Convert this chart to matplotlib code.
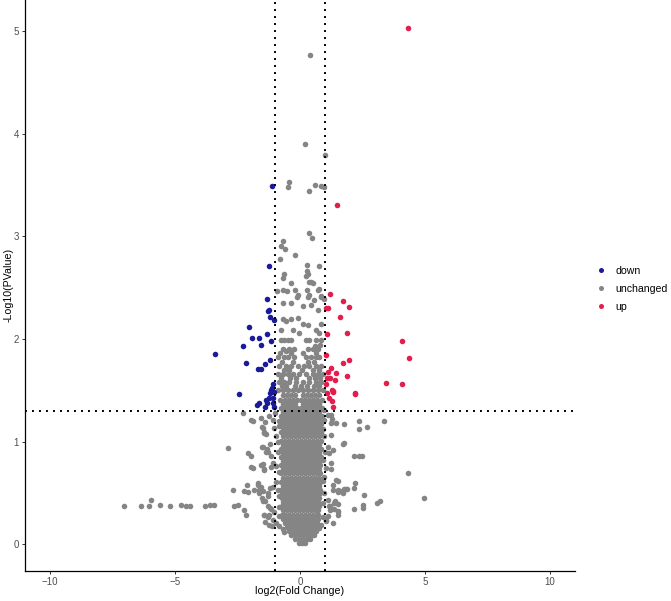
import matplotlib
matplotlib.use("Agg")
import matplotlib.pyplot as plt
from matplotlib.lines import Line2D

plt.rcParams['font.family'] = ['Liberation Sans', 'DejaVu Sans']

# significant points: (log2 fold change, -log10 p)
down_pts = [(-1.14, 3.49), (-1.23, 2.71), (-1.32, 2.39), (-1.26, 2.28), (-1.28, 2.27),
            (-1.19, 2.21), (-1.06, 2.18), (-2.06, 2.12), (-1.32, 2.05), (-1.92, 2.01),
            (-1.63, 2.01), (-1.18, 1.98), (-2.27, 1.93), (-1.55, 1.94), (-3.42, 1.85),
            (-1.22, 1.79), (-1.40, 1.76), (-2.18, 1.77), (-1.68, 1.71), (-1.58, 1.71),
            (-1.07, 1.56), (-1.11, 1.52), (-1.18, 1.50), (-1.20, 1.47), (-1.03, 1.48),
            (-2.46, 1.46), (-1.23, 1.42), (-1.10, 1.42), (-1.36, 1.41), (-1.63, 1.38),
            (-1.71, 1.36), (-1.31, 1.38), (-1.40, 1.34), (-1.07, 1.38), (-1.06, 1.34)]

up_pts = [(4.30, 5.03), (1.49, 3.30), (1.20, 2.44), (1.73, 2.37), (1.96, 2.31),
          (1.04, 2.30), (1.12, 2.30), (1.58, 2.21), (1.88, 2.06), (1.09, 2.05),
          (4.09, 1.98), (4.37, 1.81), (1.94, 1.79), (1.73, 1.77), (1.04, 1.84),
          (1.25, 1.72), (1.12, 1.68), (1.44, 1.67), (1.20, 1.62), (1.41, 1.60),
          (1.88, 1.64), (1.07, 1.62), (3.44, 1.57), (4.08, 1.56), (1.28, 1.50),
          (1.33, 1.48), (1.08, 1.47), (2.18, 1.47), (2.20, 1.46), (1.16, 1.42),
          (1.28, 1.40), (1.33, 1.34), (1.05, 1.56), (1.30, 1.49)]

# scattered unchanged genes
gray_pts = [
    (0.41, 4.76), (0.19, 3.90), (0.98, 3.79), (-0.43, 3.53), (-0.50, 3.48), (0.37, 3.44),
    (0.61, 3.50), (0.83, 3.49), (0.97, 3.48), (0.35, 3.03), (0.47, 2.98), (-0.68, 2.95),
    (-0.75, 2.90), (-0.59, 2.88), (-0.19, 2.82), (-0.79, 2.78), (0.29, 2.72), (0.77, 2.71),
    (0.27, 2.66), (0.24, 2.61), (0.33, 2.63), (-0.65, 2.63), (-0.67, 2.59), (-0.35, 2.54),
    (-0.22, 2.48), (-0.54, 2.47), (-0.91, 2.47), (-0.12, 2.41), (0.37, 2.55), (0.50, 2.54),
    (0.27, 2.48), (0.37, 2.43), (0.31, 2.41), (0.72, 2.48), (0.85, 2.42), (0.97, 2.39),
    (-0.70, 2.48), (-0.10, 2.43), (0.44, 2.55), (0.77, 2.49), (0.84, 2.41),
    (-0.70, 2.35), (-0.36, 2.35), (0.10, 2.32), (0.44, 2.33), (0.57, 2.38), (0.70, 2.28),
    (-0.70, 2.19), (-0.56, 2.17), (-0.36, 2.19), (-0.10, 2.20), (0.10, 2.15), (0.30, 2.14),
    (0.84, 2.15), (-0.76, 2.09), (-0.30, 2.09), (-0.03, 2.06), (0.64, 2.09), (0.77, 2.06),
    (-0.76, 1.99), (-0.63, 1.99), (-0.50, 1.99), (-0.36, 1.99), (0.24, 1.99), (0.37, 1.99),
    (0.64, 1.99), (0.84, 1.99), (-0.70, 1.90), (-0.43, 1.90), (-0.23, 1.90), (0.30, 1.90),
    (0.50, 1.90), (0.70, 1.90), (0.60, 1.93), (0.80, 1.94), (-0.56, 1.88),
    (-0.80, 1.86), (-0.36, 1.86), (0.12, 1.86), (0.62, 1.86),
    (-0.90, 1.82), (-0.63, 1.82), (-0.50, 1.82), (-0.23, 1.82), (0.24, 1.82), (0.44, 1.82),
    (0.64, 1.82), (0.77, 1.82), (-0.74, 1.78), (-0.30, 1.78), (0.32, 1.78), (0.56, 1.78),
    (-0.83, 1.74), (-0.56, 1.74), (-0.36, 1.74), (-0.10, 1.74), (0.17, 1.74), (0.37, 1.74),
    (0.64, 1.74), (0.84, 1.74), (-0.66, 1.70), (-0.46, 1.70), (0.06, 1.70), (0.50, 1.70),
    (0.74, 1.70), (-0.90, 1.66), (-0.70, 1.66), (-0.50, 1.66), (-0.30, 1.66), (-0.03, 1.66),
    (0.24, 1.66), (0.50, 1.66), (0.70, 1.66), (0.90, 1.66), (-0.78, 1.62), (-0.40, 1.62),
    (-0.18, 1.62), (0.36, 1.62), (0.60, 1.62), (0.80, 1.62), (-0.83, 1.58), (-0.63, 1.58),
    (-0.43, 1.58), (-0.16, 1.58), (0.10, 1.58), (0.37, 1.58), (0.64, 1.58), (0.84, 1.58),
    (-0.74, 1.54), (-0.56, 1.54), (-0.22, 1.54), (0.02, 1.54), (0.26, 1.54), (0.56, 1.54),
    (0.76, 1.54), (-0.90, 1.50), (-0.70, 1.50), (-0.50, 1.50), (-0.30, 1.50), (-0.10, 1.50),
    (0.10, 1.50), (0.30, 1.50), (0.50, 1.50), (0.70, 1.50), (0.90, 1.50),
    # left side
    (-2.27, 1.28), (-1.95, 1.21), (-1.87, 1.20), (-1.55, 1.23), (-1.41, 1.19), (-1.52, 1.14),
    (-1.46, 1.09), (-1.36, 1.07), (-2.90, 0.94), (-2.10, 0.89), (-1.95, 0.86), (-1.52, 0.95),
    (-1.34, 0.93), (-1.20, 0.98), (-1.30, 0.90), (-1.95, 0.75), (-1.55, 0.77), (-1.43, 0.72),
    (-1.18, 0.75), (-2.12, 0.58), (-2.70, 0.53), (-2.26, 0.52), (-2.07, 0.51), (-1.86, 0.53),
    (-1.70, 0.58), (-1.56, 0.56), (-1.63, 0.53), (-1.64, 0.50), (-1.52, 0.45), (-1.40, 0.42),
    (-1.30, 0.47), (-1.20, 0.55), (-7.05, 0.37), (-6.36, 0.37), (-6.06, 0.37), (-5.95, 0.43),
    (-5.60, 0.38), (-5.22, 0.37), (-4.78, 0.38), (-4.56, 0.37), (-4.40, 0.37), (-3.82, 0.37),
    (-3.59, 0.38), (-3.43, 0.38), (-2.66, 0.37), (-2.47, 0.38), (-2.26, 0.33), (-2.15, 0.29),
    (-1.46, 0.29), (-1.26, 0.29), (-1.39, 0.22), (-1.23, 0.19), (-1.12, 0.18), (-1.20, 0.35),
    (-1.50, 1.13), (-1.43, 1.08), (-1.23, 1.25), (-1.10, 1.21), (-1.03, 1.13), (-0.96, 1.05),
    (-0.90, 1.00), (-1.50, 0.95), (-1.36, 0.90), (-1.16, 0.86), (-1.10, 0.79), (-0.96, 0.76),
    (-1.50, 0.78), (-1.43, 0.73), (-1.90, 0.74), (-1.70, 0.60), (-1.50, 0.52), (-1.30, 0.50),
    (-1.10, 0.56), (-0.96, 0.61), (-0.90, 0.53), (-0.83, 0.47), (-1.50, 0.42), (-1.30, 0.37),
    (-1.16, 0.34), (-1.03, 0.31), (-1.43, 0.29), (-1.30, 0.27), (-1.10, 0.24), (-0.96, 0.21),
    (-0.83, 0.18), (-0.70, 0.15), (-0.63, 0.12), (-0.86, 1.20), (-0.88, 0.90), (-0.84, 0.70),
    (-0.86, 0.36), (-1.00, 1.28), (-0.84, 1.15), (-0.85, 0.28),
    # right side
    (1.44, 1.18), (1.76, 1.17), (2.37, 1.20), (2.34, 1.12), (2.69, 1.14), (3.34, 1.20),
    (1.26, 1.22), (1.25, 1.06), (1.73, 0.98), (1.33, 0.92), (2.17, 0.86), (2.37, 0.86),
    (2.49, 0.86), (1.24, 0.79), (4.30, 0.69), (1.50, 0.62), (2.21, 0.60), (2.14, 0.55),
    (1.77, 0.54), (1.87, 0.54), (1.30, 0.58), (1.30, 0.53), (1.60, 0.52), (1.50, 0.51),
    (2.54, 0.48), (4.97, 0.45), (3.21, 0.42), (3.06, 0.40), (2.50, 0.38), (2.50, 0.35),
    (2.17, 0.34), (1.50, 0.39), (1.53, 0.32), (1.53, 0.29), (1.40, 0.42), (1.34, 0.40),
    (1.30, 0.21), (1.20, 0.37), (1.20, 0.33), (1.10, 0.28), (1.05, 0.23), (0.77, 1.35),
    (0.97, 1.31), (1.24, 1.26), (0.97, 1.21), (1.10, 1.26), (1.24, 1.18), (1.77, 0.99),
    (0.97, 1.05), (1.10, 0.95), (1.17, 0.89), (0.90, 0.82), (1.04, 0.74), (1.24, 0.73),
    (1.44, 0.63), (1.50, 0.53), (1.70, 0.50), (1.84, 0.54), (0.97, 0.50), (1.10, 0.43),
    (1.17, 0.37), (1.37, 0.34), (1.50, 0.31), (0.90, 0.27), (1.04, 0.24), (0.84, 0.19),
    (0.77, 0.16), (0.64, 0.13), (0.92, 1.12), (0.90, 0.62), (0.92, 0.40), (1.00, 0.90),
    (0.96, 0.66),
]

# dense core of unchanged genes, one row of x values per -log10 p level
core_y = [0.01, 0.05, 0.09, 0.13, 0.17, 0.21, 0.25, 0.29, 0.33, 0.37, 0.41, 0.45, 0.49,
          0.53, 0.57, 0.61, 0.65, 0.69, 0.73, 0.77, 0.81, 0.85, 0.89, 0.93, 0.97,
          1.01, 1.05, 1.09, 1.13, 1.17, 1.21, 1.25, 1.29, 1.33, 1.37, 1.41, 1.45]
core_x = [
    [-0.06, 0.06, 0.18],
    [-0.22, -0.06, 0.10, 0.26, 0.40],
    [-0.38, -0.22, -0.06, 0.10, 0.26, 0.42, 0.54],
    [-0.46, -0.30, -0.14, 0.02, 0.18, 0.34, 0.50, 0.60],
    [-0.54, -0.38, -0.22, -0.06, 0.10, 0.26, 0.42, 0.58],
    [-0.62, -0.46, -0.30, -0.14, 0.02, 0.18, 0.34, 0.50, 0.66],
    [-0.68, -0.54, -0.38, -0.22, -0.06, 0.10, 0.26, 0.42, 0.58, 0.70],
    [-0.72, -0.62, -0.46, -0.30, -0.14, 0.02, 0.18, 0.34, 0.50, 0.66, 0.73],
    [-0.70, -0.54, -0.38, -0.22, -0.06, 0.10, 0.26, 0.42, 0.58, 0.72],
    [-0.74, -0.62, -0.46, -0.30, -0.14, 0.02, 0.18, 0.34, 0.50, 0.66, 0.74],
    [-0.70, -0.54, -0.38, -0.22, -0.06, 0.10, 0.26, 0.42, 0.58, 0.72],
    [-0.74, -0.62, -0.46, -0.30, -0.14, 0.02, 0.18, 0.34, 0.50, 0.66, 0.76],
    [-0.72, -0.54, -0.38, -0.22, -0.06, 0.10, 0.26, 0.42, 0.58, 0.74],
    [-0.78, -0.62, -0.46, -0.30, -0.14, 0.02, 0.18, 0.34, 0.50, 0.66, 0.80],
    [-0.70, -0.54, -0.38, -0.22, -0.06, 0.10, 0.26, 0.42, 0.58, 0.74],
    [-0.78, -0.62, -0.46, -0.30, -0.14, 0.02, 0.18, 0.34, 0.50, 0.66, 0.80],
    [-0.70, -0.54, -0.38, -0.22, -0.06, 0.10, 0.26, 0.42, 0.58, 0.74],
    [-0.76, -0.62, -0.46, -0.30, -0.14, 0.02, 0.18, 0.34, 0.50, 0.66, 0.80],
    [-0.70, -0.54, -0.38, -0.22, -0.06, 0.10, 0.26, 0.42, 0.58, 0.74],
    [-0.78, -0.62, -0.46, -0.30, -0.14, 0.02, 0.18, 0.34, 0.50, 0.66, 0.80],
    [-0.70, -0.54, -0.38, -0.22, -0.06, 0.10, 0.26, 0.42, 0.58, 0.74],
    [-0.78, -0.62, -0.46, -0.30, -0.14, 0.02, 0.18, 0.34, 0.50, 0.66, 0.82],
    [-0.70, -0.54, -0.38, -0.22, -0.06, 0.10, 0.26, 0.42, 0.58, 0.74],
    [-0.78, -0.62, -0.46, -0.30, -0.14, 0.02, 0.18, 0.34, 0.50, 0.66, 0.82],
    [-0.70, -0.54, -0.38, -0.22, -0.06, 0.10, 0.26, 0.42, 0.58, 0.74],
    [-0.76, -0.60, -0.44, -0.28, -0.12, 0.04, 0.20, 0.36, 0.52, 0.68, 0.84],
    [-0.68, -0.52, -0.36, -0.20, -0.04, 0.12, 0.28, 0.44, 0.60, 0.76],
    [-0.76, -0.60, -0.44, -0.28, -0.12, 0.04, 0.20, 0.36, 0.52, 0.68, 0.84],
    [-0.68, -0.52, -0.36, -0.20, -0.04, 0.12, 0.28, 0.44, 0.60, 0.76],
    [-0.76, -0.60, -0.44, -0.28, -0.12, 0.04, 0.20, 0.36, 0.52, 0.68, 0.84],
    [-0.68, -0.52, -0.36, -0.20, -0.04, 0.12, 0.28, 0.44, 0.60, 0.76],
    [-0.76, -0.60, -0.44, -0.28, -0.12, 0.04, 0.20, 0.36, 0.52, 0.68, 0.86],
    [-0.68, -0.52, -0.36, -0.20, -0.04, 0.12, 0.28, 0.44, 0.60, 0.76],
    [-0.76, -0.60, -0.44, -0.28, -0.12, 0.04, 0.20, 0.36, 0.52, 0.68, 0.86],
    [-0.68, -0.52, -0.36, -0.20, 0.12, 0.28, 0.44, 0.60, 0.76],
    [-0.80, -0.60, -0.44, -0.28, -0.12, 0.04, 0.20, 0.36, 0.52, 0.68, 0.86],
    [-0.68, -0.52, -0.36, -0.20, 0.12, 0.28, 0.44, 0.60, 0.76],
]

x_ticks = [-10, -5, 0, 5, 10]
y_ticks = [0, 1, 2, 3, 4, 5]
fc_cut = [-1, 1]
p_cut = 1.301

col_down = '#1B1B9A'
col_gray = '#858585'
col_up = '#E41E4C'

fig = plt.figure(figsize=(6.71, 6.01), dpi=100)
ax = fig.add_axes([25 / 671, 30.5 / 601, 550 / 671, 570.5 / 601])

ms = 16
gx = [p[0] for p in gray_pts]
gy = [p[1] for p in gray_pts]
for yv, xs in zip(core_y, core_x):
    gx.extend(xs)
    gy.extend([yv] * len(xs))
ax.scatter(gx, gy, s=ms, color=col_gray, linewidths=0)
ax.scatter([p[0] for p in down_pts], [p[1] for p in down_pts], s=ms, color=col_down, linewidths=0)
ax.scatter([p[0] for p in up_pts], [p[1] for p in up_pts], s=ms, color=col_up, linewidths=0)

dots = (0, (1, 2.6))
for v in fc_cut:
    ax.axvline(v, color='black', lw=1.4, linestyle=dots)
ax.axhline(p_cut, color='black', lw=1.4, linestyle=dots)

ax.set_xlim(-11, 11)
ax.set_ylim(-0.255, 5.3)
ax.set_xticks(x_ticks)
ax.set_yticks(y_ticks)
ax.tick_params(labelsize=7, colors='#4D4D4D', length=2.5, width=0.7, pad=2)
ax.tick_params(axis='both', color='#333333')
for side in ['top', 'right']:
    ax.spines[side].set_visible(False)
for side in ['left', 'bottom']:
    ax.spines[side].set_linewidth(0.9)
ax.set_xlabel('log2(Fold Change)', fontsize=7.7)
ax.set_ylabel('-Log10(PValue)', fontsize=7.7)
ax.xaxis.set_label_coords(0.5, -0.027)
ax.yaxis.set_label_coords(-0.021, 0.5)

handles = [Line2D([], [], marker='o', ls='', color=c, markersize=3.6, markeredgewidth=0)
           for c in [col_down, col_gray, col_up]]
fig.legend(handles, ['down', 'unchanged', 'up'], loc='center left',
           bbox_to_anchor=(590 / 671, 1 - 289 / 601), frameon=False, fontsize=7.6,
           handletextpad=0.9, labelspacing=0.75, handlelength=1.0, borderpad=0)

fig.savefig('out.png', dpi=100)
